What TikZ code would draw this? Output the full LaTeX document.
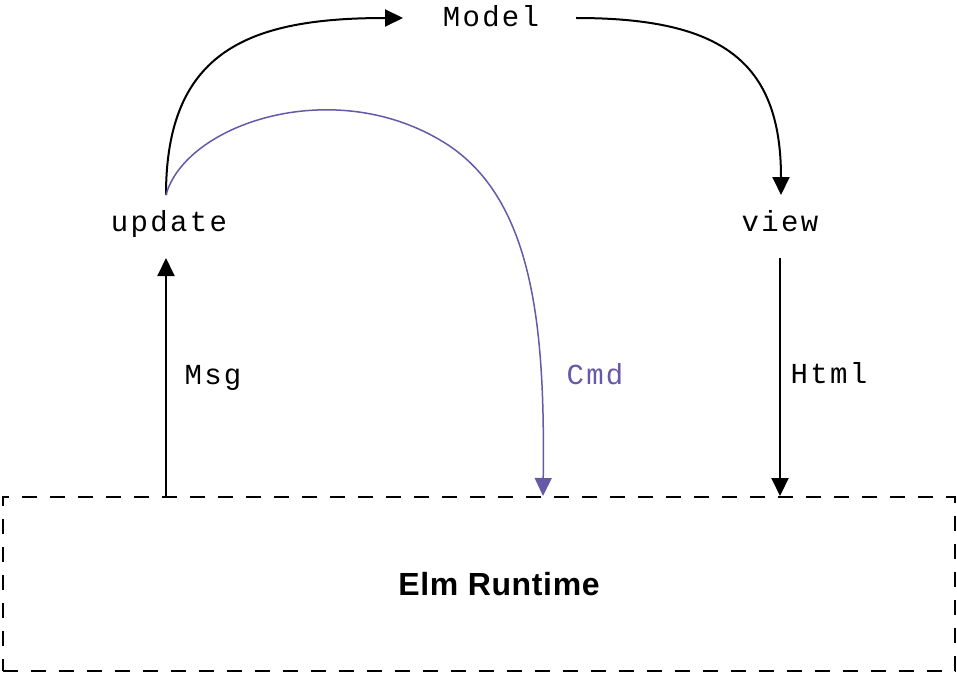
\documentclass[tikz,border=0pt]{standalone}
\usepackage{fontspec}
\setmainfont{Liberation Sans}
\newfontfamily\codefont[LetterSpace=8]{Liberation Mono}
\newfontfamily\titlefont[LetterSpace=2]{Liberation Sans}
\usetikzlibrary{arrows.meta}
\definecolor{cmdpurple}{RGB}{104,88,168}
\tikzset{
  code/.style={font=\codefont\fontsize{29}{34}\selectfont, inner sep=0pt, anchor=base},
  conn/.style={line width=2pt, -{Triangle[length=18pt,width=17pt]}},
}
\begin{document}
\begin{tikzpicture}[x=1pt,y=-1pt]
\useasboundingbox (0,0) rectangle (957,674);
\node[code] (model) at (491,27) {Model};
\node[code] (update) at (169,231) {update};
\node[code] (view) at (780,231) {view};
\node[code] (msg) at (213,384) {Msg};
\node[code, text=cmdpurple] (cmd) at (595,384) {Cmd};
\node[code] (html) at (829,383.5) {Html};
\node[draw, line width=2pt, dash pattern=on 15pt off 13pt, minimum width=952pt, minimum height=174pt, inner sep=0pt] (rt) at (478.5,584) {};
\node[font=\titlefont\bfseries\fontsize{32}{38}\selectfont, anchor=base, inner sep=0pt] (rtl) at (499,595) {Elm Runtime};
\coordinate (upTop) at (166,195);
\coordinate (modelIn) at (403,18);
\coordinate (modelOut) at (576,18);
\coordinate (viewIn) at (781,195);
\coordinate (upBot) at (166,258);
\coordinate (viewBot) at (780,258);
\coordinate (cmdX) at (543,0);
\coordinate (msgStart) at (rt.north -| upBot);
\coordinate (htmlEnd) at (rt.north -| viewBot);
\coordinate (cmdEnd) at (rt.north -| cmdX);
\draw[conn] (upTop) .. controls (166,50) and (250,18) .. (modelIn);
\draw[conn] (modelOut) .. controls (720,18) and (781,60) .. (viewIn);
\draw[conn] (msgStart) -- (upBot);
\draw[conn] (viewBot) -- (htmlEnd);
\draw[conn, line width=1.5pt, cmdpurple] (upTop) .. controls (185,125) and (330,75) .. (440,140) .. controls (535,195) and (545,330) .. (cmdEnd);
\end{tikzpicture}
\end{document}
